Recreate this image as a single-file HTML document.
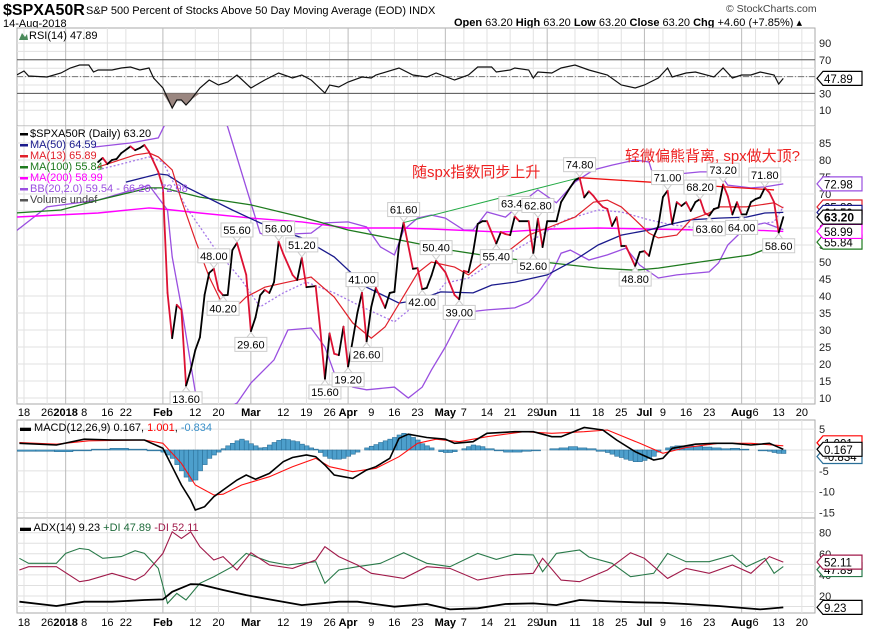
<!DOCTYPE html>
<html><head><meta charset="utf-8"><style>
body{margin:0;background:#fff}
svg{display:block;font-family:"Liberation Sans","Noto Sans CJK SC",sans-serif}
</style></head><body>
<svg id="c" width="878" height="633" viewBox="0 0 878 633">
<text x="3" y="15" font-size="16" font-weight="bold">$SPXA50R</text>
<text x="86" y="14" font-size="11">S&amp;P 500 Percent of Stocks Above 50 Day Moving Average (EOD)  INDX</text>
<text x="3" y="27" font-size="11">14-Aug-2018</text>
<text x="726" y="12" font-size="10.5" fill="#444">© StockCharts.com</text>
<text x="454" y="26" font-size="11"><tspan font-weight="bold">Open</tspan> 63.20  <tspan font-weight="bold">High</tspan> 63.20  <tspan font-weight="bold">Low</tspan> 63.20  <tspan font-weight="bold">Close</tspan> 63.20  <tspan font-weight="bold">Chg</tspan> +4.60 (+7.85%) ▴</text>
<g id="g"></g>
</svg>
<script>
// ---------- data ----------
const tickDays=[0,5,9,13,18,22,30,37,42,49,56,61,66,70,75,80,85,91,95,100,105,110,113,119,124,129,134,138,143,148,155,158,163,168];
const tickLabels=["18","26","2018","8","16","22","Feb","12","20","Mar","12","19","26","Apr","9","16","23","May","7","14","21","29","Jun","11","18","25","Jul","9","16","23","Aug","6","13","20"];
const tickMonth=[0,0,1,0,0,0,1,0,0,1,0,0,0,1,0,0,0,1,0,0,0,0,1,0,0,0,1,0,0,0,1,0,0,0];

const priceDays=[16,17,18,19,20,21,23,24,25,26,27,29,30,31,32,33,34,35,36,37,38,39,40,41,42,43,44,45,46,48,49,50,51,52,53,54,55,56,58,59,60,61,63,64,65,66,67,68,69,70,71,72,73,74,75,76,78,79,80,81,82,84,85,86,87,88,89,91,93,94,95,96,97,98,99,100,102,103,104,105,106,107,109,110,111,112,113,115,116,118,119,120,121,122,123,124,125,126,127,128,129,130,132,133,134,135,136,137,138,139,140,141,142,143,144,145,146,147,148,149,150,151,152,153,154,155,156,157,158,159,160,161,162,163,164];
const priceVals=[79.4,80.6,78.8,80,80.3,82,84,82.9,83.5,84.4,82.4,76.5,72,40.9,27.6,37.4,35.9,13.6,18.2,24.1,27.9,40.3,46.8,48,41.8,40.2,40.3,53.5,55.6,46.2,29.6,33.7,40.2,41.8,40.9,44.1,56,52.4,46.2,44.7,51.2,42.6,42.9,30,15.6,29,23,22.6,31,19.2,27,35,41,26.6,36.8,42.4,36.5,40.9,41.2,55,61.6,48,48.2,42,42.4,46,50.4,47,40.3,39,47.4,47,52.9,61.2,62,62,55.4,58.8,58.2,57.9,63.4,62,62,52.6,62.8,54.4,62,62,67.6,72,74,74.8,69,70.8,69.4,67.6,66.2,65.6,60.6,63.2,54.7,54.7,48.8,52.9,53.2,51.8,57.4,60.6,69.1,71,61.2,67.6,66.5,67.6,65,67.6,68.5,64.5,63.6,65.6,66,72.8,69.4,64,67.6,64,64,67.6,68.5,69,71.8,70.4,67.6,58.6,63.2];

const ma200Days=[-2,16,27,30,38,49,60,70,81,88,103,114,124,135,146,157,164];
const ma200Vals=[63.2,64.4,65.9,65.6,64.4,62.9,61.8,60,60,59.7,58.8,59.7,60,59.7,59.4,59.4,58.99];
const ma100Days=[-2,8,16,27,30,38,49,60,70,81,92,103,114,124,132,137,146,157,164];
const ma100Vals=[64.4,65.3,68.2,71.8,71.8,69.1,66.8,63.2,59.4,56.5,53.5,51.2,49.7,48.2,47.6,48.2,50,52.1,55.84];
const ma50Days=[22,29,31,35,45,51,60,67,74,81,85,90,97,101,106,113,119,124,129,135,139,144,150,156,160,164];
const ma50Vals=[73.5,75.9,75.6,72.1,65.3,61.5,57.1,51.5,42.6,37.9,38.8,41.2,40.9,43.2,44.1,46.2,50.6,55,57.9,59.4,60.9,62.4,62.9,63.2,64.4,64.59];
const ma13Days=[16,24,27,29,32,34,37,40,44,48,52,57,62,67,71,75,78,85,88,93,96,99,104,109,113,119,123,126,129,132,135,137,141,144,148,150,156,162,164];
const ma13Vals=[77.9,81.5,82.1,80.9,77.1,68.2,56.5,45.6,34.4,39.7,42.6,44.1,45.6,39.7,32.1,27.6,30.9,46.8,50,48.5,46.2,49.7,52.6,57.9,60,63.2,67.6,68.2,66.2,62.4,58.5,57.1,57.9,62.4,64.4,66.2,66.2,67.4,65.89];
const bbMidDays=[16,27,30,35,41,47,51,56,61,67,73,80,84,88,91,96,101,106,111,117,124,129,135,140,146,152,157,162,164];
const bbMidVals=[77.1,80.9,79.4,66.2,54.4,44.7,36.8,40.9,44.1,40.9,36.8,32.4,36.8,38.8,43.8,45.3,49.7,53.5,57.4,62.4,65.3,64.7,62.4,60.9,60,59.4,60.9,61.8,66.26];
const bbUpDays=[15,23,29,31,36,44,51,52,62,65,70,74,77,80,82,85,88,91,95,97,100,104,109,111,115,119,123,127,132,135,136,139,146,150,152,157,160,164];
const bbUpVals=[83.8,85,86.5,92,112,89.7,58.5,57.9,58.5,61.5,61.8,60.3,54.4,52.1,59.4,62.9,63.8,62.9,59.4,59.4,64.7,63.2,69.1,71.2,67.4,73.5,77.1,78.5,80,79.4,75,75.6,76.5,76.5,72.6,71.8,72.1,72.98];
const bbLoDays=[-2,5,16,27,31,32,34,38,46,49,54,57,62,65,67,71,74,80,83,86,88,91,94,96,100,106,109,111,114,116,118,122,126,130,133,137,141,148,150,152,156,160,163,164];
const bbLoVals=[58.8,66.2,68.2,72.6,65.3,51.5,36.8,3.5,8.5,14.4,21.2,30,30.6,25,17.4,13.2,12.4,13.2,10,13.2,18.2,25,32.9,35.3,35.9,36.5,38.2,40.9,46.8,52.6,53.5,50.6,52.1,54.1,49.1,45.3,46.2,47.1,49.7,55,60.3,61.5,60,59.54];

const peakDays=[35,41,43,46,49,55,60,65,70,73,74,82,86,89,94,102,106,110,111,120,132,139,146,148,151,155,160,163];
const peakVals=[13.6,48,40.2,55.6,29.6,56,51.2,15.6,19.2,41,26.6,61.6,42,50.4,39,55.4,63.4,52.6,62.8,74.8,48.8,71,68.2,63.6,73.2,64,71.8,58.6];
const peakAbove=[0,1,0,1,0,1,1,0,0,1,0,1,0,1,0,0,1,0,1,1,0,1,1,0,1,0,1,0];

const rsiDays=[-2,0,1,5,8,10,12,14,15,16,19,21,23,25,27,28,30,32,33,34,35,36,38,40,42,44,46,49,52,55,58,60,62,65,66,68,70,73,75,76,81,84,87,89,93,96,98,101,102,105,106,109,110,111,114,116,119,122,126,129,132,134,137,139,140,143,145,149,151,153,155,157,159,162,163,164];
const rsiVals=[50.7,56.7,50.7,49.5,54.3,60.2,63.8,63.8,55.5,57.9,57.9,60.2,61.4,57.9,60.2,48.3,36.4,12.5,22.1,22.1,16.2,22.1,36.4,46,40,43.6,51.9,36.4,46,54.3,48.3,51.9,46,30.5,40,37.6,43.6,49.5,48.3,51.9,60.2,51.9,49.5,54.3,46,51.9,61.4,61.4,55.5,57.9,60.2,57.9,48.3,55.5,54.3,60.2,63.8,57.9,51.9,40,36.4,40,48.3,60.2,49.5,54.3,55.5,49.5,60.2,48.3,51.9,51.9,55.5,51.9,41.2,47.89];

const macdDays=[-1,7,13,19,26,30,32,34,36,37,39,41,43,46,48,50,53,56,58,61,63,65,67,71,74,76,79,81,83,87,91,93,97,100,106,110,114,116,121,125,128,132,136,138,140,145,149,153,157,161,164];
const macdVals=[1.6,1.2,2.6,2.4,2.4,0.4,-4,-8.4,-12,-14.4,-13.6,-11.2,-9.6,-7.2,-6,-7,-5.6,-2.8,-1.8,-1.2,-1.6,-3.6,-6,-6.8,-4.8,-4,-2,2.8,3.8,3,2.6,1.6,2,4,4.4,4.4,3.2,3.2,5.4,4.8,2.4,-0.4,-2.4,-2,0.4,1.4,1.6,1.6,1.2,1.6,0.167];
const sigDays=[-1,7,14,26,30,34,37,41,43,47,53,58,63,66,71,76,81,85,89,94,100,108,114,121,126,133,138,143,150,157,164];
const sigVals=[1.8,1.4,2.2,2.4,1.6,-3.2,-8.4,-10.8,-10.6,-8.4,-6.4,-4,-2,-4,-5.2,-4.4,-1.6,1.6,2.6,2,3.2,4.4,4,4.4,4.8,1.6,-0.8,0.6,1.6,1.6,1.001];
const histDays=[-1,3,7,11,15,19,23,27,30,31,32,33,34,35,36,37,38,39,40,41,42,43,44,45,46,47,48,49,50,51,52,53,54,55,56,57,58,59,60,61,62,63,64,65,66,67,68,69,70,71,72,73,74,75,76,77,78,79,80,81,82,83,84,85,86,87,88,89,90,91,92,93,94,95,96,97,98,99,100,102,104,106,108,110,112,114,116,118,120,122,124,126,127,128,129,130,131,132,133,134,135,136,137,138,139,140,141,142,143,145,147,149,151,153,155,157,159,161,162,163,164];
const histVals=[-0.3,-0.3,-0.4,-0.2,0.2,0.4,0.2,-0.2,-0.5,-1.2,-2,-3.5,-5,-6.5,-7.5,-7.2,-5,-3.5,-2,-1.2,-0.5,0.3,1,1.6,2.2,2.6,2.2,1.5,1,0.5,0.6,1.2,1.8,2.3,2.6,2.5,2.2,2,1.4,1,0.5,0.2,-0.6,-1.5,-2,-2.2,-2.2,-2,-1.5,-1,-0.5,0,0.5,0.9,1.3,1.8,2.2,2.6,3,3.6,4,3.8,3,2.4,1.5,1,0.5,0,-0.4,-0.6,-0.6,-0.4,0,0.3,0.8,1.2,1,0.8,0.3,-0.2,-0.5,-0.5,-0.3,-0.2,0,0.3,0.5,0.8,0.5,0.3,-0.3,-0.6,-1,-1.5,-1.8,-2.2,-2.5,-2.8,-2.8,-2.5,-2,-1.5,-0.5,0,0.5,0.8,1,1,1,0.9,0.7,0.5,0.3,0.4,0.2,0,-0.2,-0.3,-0.6,-0.8,-0.83];

const adxDays=[-1,7,13,19,26,30,32,36,38,43,48,53,60,68,72,80,87,92,98,104,110,115,120,125,132,138,143,150,159,164];
const adxVals=[14.6,10.5,14.6,14.6,16.2,16.8,24,31.3,31,25.7,20.9,16.8,11.4,14.6,14.6,9.9,12.4,7.3,8.3,12.4,13,11.4,16.2,15.2,14,13.6,12.4,10.5,7.3,9.23];
const pdiDays=[-1,1,7,9,12,14,17,21,24,26,29,31,33,35,38,41,45,48,53,57,60,63,65,68,72,77,82,87,92,98,102,106,110,112,115,120,122,127,131,136,139,143,148,153,156,160,162,164];
const pdiVals=[55.7,51,51,60.4,65.1,64,55.7,57.3,62.9,60.4,46.2,13,22.5,16.2,32,38.3,47.8,60.4,52.5,49.4,51,52.5,32,44.6,47.8,51,61,51,47.8,60.4,54.7,59.5,59,43,60.4,63.6,57,51,38.3,41.5,60.4,52.5,52.5,58.8,47.8,55.7,41.5,47.89];
const mdiDays=[-1,1,7,12,14,19,24,26,30,32,34,36,38,41,43,46,49,53,58,63,65,68,72,75,82,87,92,98,104,110,112,116,120,126,131,134,139,143,148,153,157,161,164];
const mdiVals=[44.6,47.8,47.8,33.6,35,41.5,35.1,39.9,60.4,80.9,74.6,80.9,66.7,54.1,57.3,44.6,61,49.4,46.2,54.1,66.7,57.3,49.4,41.5,36.7,47.8,46.2,35.1,39.9,41.5,55.7,35.1,33.6,44.6,61,55.7,36.7,46.2,41.5,49.4,41.5,57.3,52.11];

// ---------- scales ----------
const L=17,R=815;
const xd=d=>24+d*4.63;
const ym=v=>143+(85-v)*3.4;
const yr=v=>43+(90-v)*0.84;
const yM=v=>450-4.17*v;
const ya=v=>532.7+(80-v)*1.055;
const NS="http://www.w3.org/2000/svg";
const G=document.getElementById('g');
function el(tag,attrs,parent){const e=document.createElementNS(NS,tag);for(const k in attrs)e.setAttribute(k,attrs[k]);(parent||G).appendChild(e);return e;}
function pathD(days,vals,ys){return days.map((d,i)=>(i?'L':'M')+xd(d).toFixed(1)+','+ys(vals[i]).toFixed(1)).join('');}

const defs=el('defs',{});
const panels=[["rsi",28,126],["main",126,404],["macd",420,518],["adx",518,613]];
const clips={};
panels.forEach(p=>{const cp=el('clipPath',{id:'clip-'+p[0]},defs);el('rect',{x:L,y:p[1],width:R-L,height:p[2]-p[1]},cp);
 const bg=el('rect',{x:L,y:p[1],width:R-L,height:p[2]-p[1],fill:'#fff',stroke:'#aaa'});
 
 
 clips[p[0]]=el('g',{'clip-path':'url(#clip-'+p[0]+')'});});

function hgrid(g,vals,ys,name){vals.forEach(v=>{const l=el('line',{x1:L,x2:R,y1:ys(v),y2:ys(v),stroke:'#e0e0e0'},g);
 
 });}
hgrid(clips.rsi,[10,20,30,40,50,60,70,80,90],yr,'rsi-gridline');
let mv=[];for(let v=5;v<=90;v+=5)mv.push(v);hgrid(clips.main,mv,ym,'main-gridline');
hgrid(clips.macd,[5,0,-5,-10,-15],yM,'macd-gridline');
hgrid(clips.adx,[10,20,30,40,50,60,70,80],ya,'adx-gridline');
panels.forEach(p=>{tickDays.forEach((d,i)=>{const l=el('line',{x1:xd(d),x2:xd(d),y1:p[1],y2:p[2],stroke:tickMonth[i]?'#bbb':'#e2e2e2'},clips[p[0]]);
 
 });});
[416,626].forEach((y,j)=>{tickDays.forEach((d,i)=>{const t=el('text',{x:xd(d),y:y,'font-size':11,'text-anchor':'middle','font-weight':tickMonth[i]?'bold':'normal'});
 t.textContent=tickLabels[i];
 
 });});

// RSI
const rg=clips.rsi;
[[70,'#555','none'],[30,'#555','none'],[50,'#777','6,2,1,2']].forEach(a=>{const l=el('line',{x1:L,x2:R,y1:yr(a[0]),y2:yr(a[0]),stroke:a[1],'stroke-dasharray':a[2]},rg);
 
 });
(function(){let pts=[];for(let i=0;i<rsiDays.length;i++){if(rsiVals[i]<30||(rsiVals[i-1]<30)||(rsiVals[i+1]<30))pts.push([xd(rsiDays[i]),Math.max(yr(30),yr(rsiVals[i]))]);}
 if(pts.length){const d='M'+pts[0][0]+','+yr(30)+pts.map(p=>'L'+p[0]+','+p[1]).join('')+'L'+pts[pts.length-1][0]+','+yr(30)+'Z';
 const f=el('path',{d:d,fill:'#9a8680'},rg);
 
 }})();
const rl=el('path',{d:pathD(rsiDays,rsiVals,yr),fill:'none',stroke:'#111','stroke-width':1.2},rg);



// main
const mg=clips.main;
function series(days,vals,color,w,dash,name,ys,g){const p=el('path',{d:pathD(days,vals,ys),fill:'none',stroke:color,'stroke-width':w,'stroke-dasharray':dash||'none'},g);
 
 return p;}
series(bbUpDays,bbUpVals,'#9a4fe0',1.3,null,'bb-upper-band',ym,mg);
series(bbLoDays,bbLoVals,'#9a4fe0',1.3,null,'bb-lower-band',ym,mg);
series(bbMidDays,bbMidVals,'#a77ae8',1.3,'2,2','bb-middle-band',ym,mg);
series(ma200Days,ma200Vals,'#ff00ff',1.4,null,'ma200-line',ym,mg);
series(ma100Days,ma100Vals,'#1e7a1e',1.3,null,'ma100-line',ym,mg);
series(ma50Days,ma50Vals,'#1a1a8c',1.3,null,'ma50-line',ym,mg);
series(ma13Days,ma13Vals,'#e0202a',1.2,null,'ma13-line',ym,mg);
const trendDays=[82,120,160];
const trendVals=[61.6,74.8,71.2];
const t1=el('line',{x1:xd(trendDays[0]),y1:ym(trendVals[0]),x2:xd(trendDays[1]),y2:ym(trendVals[1]),stroke:'#22aa44','stroke-width':1},mg);


const t2=el('line',{x1:xd(trendDays[1]),y1:ym(trendVals[1]),x2:xd(trendDays[2]+2),y2:ym(trendVals[2]),stroke:'#ee1111','stroke-width':1.3},mg);


for(let i=1;i<priceDays.length;i++){const up=priceVals[i]>=priceVals[i-1];
 const s=el('line',{x1:xd(priceDays[i-1]),y1:ym(priceVals[i-1]),x2:xd(priceDays[i]),y2:ym(priceVals[i]),stroke:up?'#000':'#dd1133','stroke-width':1.8,'stroke-linecap':'round'},mg);
 
 }
peakDays.forEach((d,i)=>{const x=xd(d),y=ym(peakVals[i]),up=peakAbove[i];const by=up?y-20:y+6;
 const g=el('g',{},mg);
 
 
 el('polygon',{points:up?`${x-4},${by+14} ${x+4},${by+14} ${x},${y-1}`:`${x-4},${by} ${x+4},${by} ${x},${y+1}`,fill:'#fff',stroke:'#ccc'},g);
 el('rect',{x:x-16,y:by,width:32,height:14,fill:'#fff',stroke:'#ccc'},g);
 const t=el('text',{x:x,y:by+11,'font-size':11,'text-anchor':'middle'},g);t.textContent=peakVals[i].toFixed(2);});

const n1=el('text',{x:412,y:177,'font-size':15,fill:'#ee2222'});n1.textContent='随spx指数同步上升';


const n2=el('text',{x:625,y:161,'font-size':15,fill:'#ee2222'});n2.textContent='轻微偏熊背离, spx做大顶?';



const legItems=[['#000','$SPXA50R (Daily) 63.20','#000'],['#1a1a8c','MA(50) 64.59','#1a1a8c'],['#e0202a','MA(13) 65.89','#e0202a'],['#1e7a1e','MA(100) 55.84','#1e7a1e'],['#ff00ff','MA(200) 58.99','#ff00ff'],['#9a4fe0','BB(20,2.0) 59.54 - 66.26 - 72.98','#9a4fe0'],['#555','Volume undef','#444']];
legItems.forEach((it,i)=>{const y=137+i*11;
 const sw=el('rect',{x:20,y:y-4,width:8,height:2.5,fill:it[0]});
 
 
 const t=el('text',{x:30,y:y,'font-size':11,fill:it[2]});t.textContent=it[1];
 
 });
const rt=el('text',{x:29,y:39,'font-size':11});rt.textContent='RSI(14) 47.89';


el('polygon',{points:'19,40 22,33 25,37 27,34 28,40',fill:'#4a8a5a'});

function axisLabels(vals,ys,name){vals.forEach(v=>{const t=el('text',{x:819,y:ys(v)+4,'font-size':11,fill:'#222'});t.textContent=v;
 
 });}
axisLabels([90,70,30,10],yr,'rsi-y-tick');
let mt=[];for(let v=85;v>=10;v-=5)mt.push(v);axisLabels(mt,ym,'main-y-tick');
axisLabels([5,-5,-10,-15],yM,'macd-y-tick');
axisLabels([80,60,40,20],ya,'adx-y-tick');
function tag(v,y,color,name,bold){const g=el('g',{});
 
 
 el('polygon',{points:`817,${y} 823,${y-7} 862,${y-7} 862,${y+7} 823,${y+7}`,fill:'#fff',stroke:color,'stroke-width':1.2},g);
 const t=el('text',{x:824,y:y+4.5,'font-size':bold?12:11.5,'font-weight':bold?'bold':'normal',fill:'#000'},g);t.textContent=v;}
tag('47.89',yr(47.89),'#000','rsi-value-tag');
tag('72.98',ym(72.98),'#9a4fe0','bb-upper-tag');
tag('55.84',ym(55.84),'#1e7a1e','ma100-tag');
tag('65.89',ym(65.89)-1,'#e0202a','ma13-tag');
tag('64.59',ym(64.59),'#1a1a8c','ma50-tag');
tag('58.99',ym(58.99),'#ff00ff','ma200-tag');
tag('63.20',ym(63.2),'#000','price-tag',true);

const cg=clips.macd;
histDays.forEach((d,i)=>{const nx=i<histDays.length-1?xd(histDays[i+1]):xd(d)+4.6;const v=histVals[i];
 const b=el('rect',{x:xd(d)-2,y:Math.min(yM(0),yM(v)),width:Math.max(3,nx-xd(d)),height:Math.abs(yM(v)-yM(0)),fill:'#4d9fcc',stroke:'#2a6f98','stroke-width':0.6},cg);
 
 });
series(sigDays,sigVals,'#ff1111',1.1,null,'macd-signal-line',yM,cg);
series(macdDays,macdVals,'#000',1.6,null,'macd-line',yM,cg);
const ml=el('text',{x:20,y:431,'font-size':11});ml.innerHTML='<tspan font-weight="bold">▬</tspan> MACD(12,26,9) 0.167, <tspan fill="#f00">1.001</tspan>, <tspan fill="#3a8fc8">-0.834</tspan>';


tag('1.001',yM(1.001)-3,'#f00','macd-signal-tag');
tag('-0.834',yM(-0.834)+3,'#2a6f98','macd-hist-tag');
tag('0.167',yM(0.167),'#000','macd-value-tag');

const ag=clips.adx;
series(pdiDays,pdiVals,'#2a7a4a',1.1,null,'plus-di-line',ya,ag);
series(mdiDays,mdiVals,'#a01a4a',1.1,null,'minus-di-line',ya,ag);
series(adxDays,adxVals,'#000',1.8,null,'adx-line',ya,ag);
const al=el('text',{x:20,y:531,'font-size':11});al.innerHTML='<tspan font-weight="bold">▬</tspan> ADX(14) 9.23 <tspan fill="#1e6a3a">+DI 47.89</tspan> <tspan fill="#a01a4a">-DI 52.11</tspan>';


tag('47.89',ya(47.89)+3,'#2a7a4a','plus-di-tag');
tag('52.11',ya(52.11),'#a01a4a','minus-di-tag');
tag('9.23',ya(9.23),'#000','adx-value-tag');
</script>
</body></html>
